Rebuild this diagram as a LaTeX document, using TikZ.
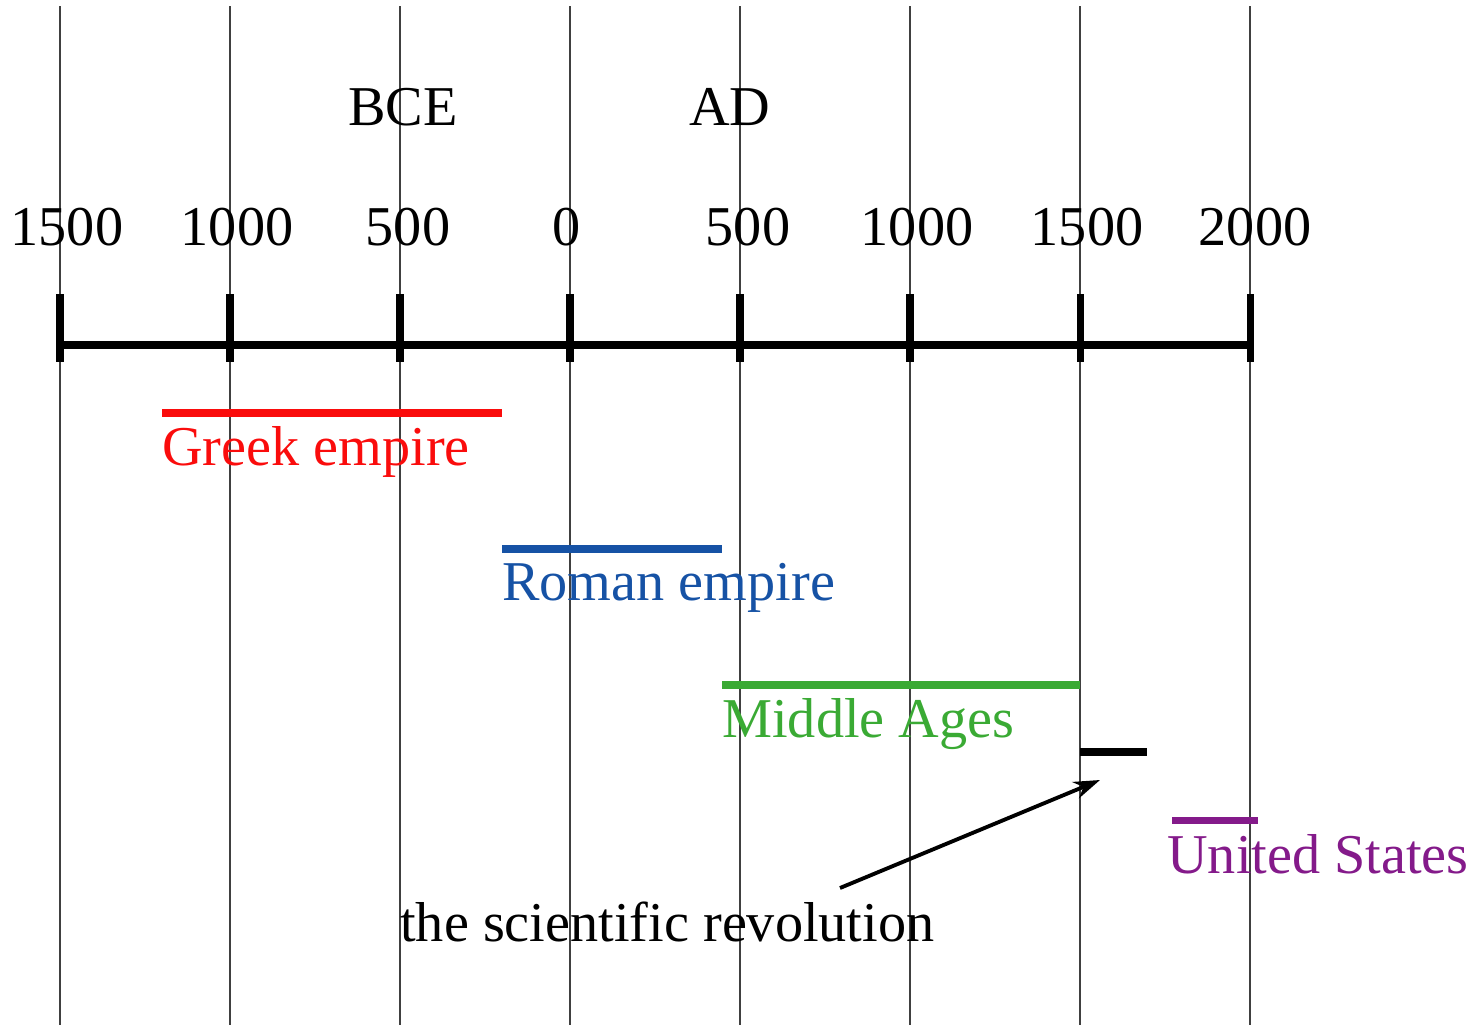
\documentclass[tikz,border=0pt]{standalone}
\usepackage{fontspec}
\setmainfont{Liberation Serif}
\usetikzlibrary{arrows.meta,positioning,calc}

\definecolor{greekred}{RGB}{250,12,12}
\definecolor{romanblue}{RGB}{22,82,165}
\definecolor{middlegreen}{RGB}{58,170,52}
\definecolor{uspurple}{RGB}{132,26,138}

\begin{document}
\begin{tikzpicture}[x=0.02cm, y=-0.02cm, >={Stealth[length=15pt,width=10pt]},
    font=\fontsize{32}{38}\selectfont,
    gridline/.style={line width=1pt, draw=black!75},
    axisline/.style={line width=4pt},
    era/.style={line width=4pt},
    lbl/.style={inner sep=0pt, anchor=base west}]
  \useasboundingbox (0,0) rectangle (1477,1025);

  % grid, ticks and years
  \foreach \i/\yr/\dx in {0/1500/7,1/1000/7,2/500/8,3/0/-3,4/500/8,5/1000/7,6/1500/7,7/2000/5} {
    \draw[gridline] (60+170*\i,6) -- (60+170*\i,1025);
    \draw[axisline] (60+170*\i,294) -- (60+170*\i,362);
    \node[inner sep=0pt, anchor=base] (yr\i) at (60+170*\i+\dx,245) {\yr};
  }
  \draw[axisline] (60,345) -- (1250,345);

  \node[inner sep=0pt, anchor=base] (bce) at (403,125) {BCE};
  \node[inner sep=0pt, anchor=base] (ad) at (730,125) {AD};

  % eras
  \draw[era, greekred] (162,413) -- (502,413);
  \node[lbl, text=greekred] (greek) at (162,465) {Greek empire};
  \draw[era, romanblue] (502,549) -- (722,549);
  \node[lbl, text=romanblue] (roman) at (502,600) {Roman empire};
  \draw[era, middlegreen] (722,685) -- (1080,685);
  \node[lbl, text=middlegreen] (middle) at (722,737) {Middle Ages};
  \draw[era] (1080,752) -- (1147,752);
  \draw[era, uspurple] (1172,820) -- (1258,820);
  \node[lbl, text=uspurple] (us) at (1167,873) {United States};

  \node[lbl] (sciencerev) at (400,941) {the scientific revolution};
  \coordinate (revtail) at (840,888);
  \coordinate (revtip) at (1100,780);
  \draw[->, line width=2.2pt] (revtail) -- (revtip);
\end{tikzpicture}
\end{document}
